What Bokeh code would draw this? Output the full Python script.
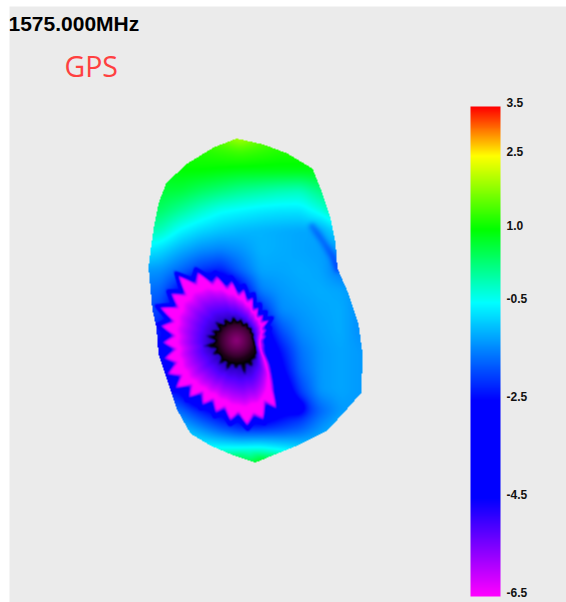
import numpy as np
from bokeh.core.properties import value
from bokeh.embed import file_html
from bokeh.models import LinearColorMapper, Range1d
from bokeh.plotting import figure
from bokeh.resources import INLINE

TITLE = "1575.000MHz"
BAND = "GPS"
scale_ticks = [3.5, 2.5, 1.0, -0.5, -2.5, -4.5, -6.5]
scale_labels = ["3.5", "2.5", "1.0", "-0.5", "-2.5", "-4.5", "-6.5"]

# Projected silhouette of the radiation pattern
outline_x = [236, 263, 287, 312, 322, 330, 335, 337, 348, 358, 362, 361, 347, 327, 297, 277, 255, 233, 210, 190, 177, 167, 158, 156, 152, 148, 151, 154, 158, 166, 187, 213]
outline_y = [138, 144, 153, 168, 193, 217, 243, 268, 293, 323, 353, 392, 408, 430, 445, 453, 462, 455, 445, 433, 410, 380, 353, 327, 310, 267, 243, 223, 203, 182, 163, 147]

lattice_x = [140, 160, 180, 200, 220, 240, 260, 280, 300, 320, 340, 360, 380]
lattice_y = [130, 150, 170, 190, 210, 230, 250, 270, 290, 310, 330, 350, 370, 390, 410, 430, 450, 470]
gain_y130 = [1.2, 1.2, 1.3, 1.5, 1.8, 2.4, 1.8, 1.4, 1.3, 1.3, 1.3, 1.2, 1.2]
gain_y150 = [1.0, 1.0, 1.1, 1.2, 1.3, 1.4, 1.3, 1.2, 1.2, 1.1, 1.1, 1.1, 1.1]
gain_y170 = [0.9, 0.9, 1.0, 1.0, 0.95, 0.9, 0.9, 0.9, 0.9, 0.9, 0.8, 0.8, 0.8]
gain_y190 = [0.8, 0.7, 0.65, 0.45, 0.3, 0.15, 0.05, -0.05, -0.1, 0.25, 0.5, 0.5, 0.5]
gain_y210 = [0.5, 0.4, 0.1, -0.2, -0.45, -0.55, -0.65, -0.7, -0.7, -0.35, 0.2, 0.2, 0.2]
gain_y230 = [0.0, -0.1, -0.55, -0.8, -0.95, -1.05, -1.1, -1.15, -1.2, -1.2, -0.7, -0.7, -0.7]
gain_y250 = [-0.6, -0.8, -1.15, -1.4, -1.5, -1.35, -1.1, -1.15, -1.2, -1.25, -1.4, -1.4, -1.4]
gain_y270 = [-1.3, -1.35, -1.7, -2.1, -2.3, -1.7, -1.2, -1.2, -1.15, -1.2, -1.55, -1.6, -1.6]
gain_y290 = [-1.6, -1.7, -2.5, -4.0, -4.0, -2.7, -1.5, -1.3, -1.2, -1.15, -1.2, -1.4, -1.4]
gain_y310 = [-1.9, -2.0, -3.0, -4.0, -4.0, -3.5, -2.3, -1.4, -1.3, -1.2, -1.15, -1.4, -1.4]
gain_y330 = [-2.2, -2.3, -4.0, -4.0, -4.0, -4.0, -3.0, -1.9, -1.4, -1.25, -1.15, -1.4, -1.4]
gain_y350 = [-2.4, -2.5, -4.0, -4.0, -4.0, -4.0, -3.5, -2.4, -1.6, -1.3, -1.2, -1.3, -1.3]
gain_y370 = [-2.4, -2.5, -3.0, -4.0, -4.0, -4.0, -4.0, -2.7, -1.7, -1.3, -1.2, -1.3, -1.3]
gain_y390 = [-2.0, -2.2, -2.6, -4.0, -4.0, -4.0, -4.0, -3.2, -2.0, -1.3, -1.2, -1.3, -1.3]
gain_y410 = [-1.3, -1.5, -1.7, -2.3, -2.8, -3.2, -3.5, -2.8, -2.4, -1.7, -1.3, -1.3, -1.3]
gain_y430 = [-0.7, -0.7, -0.9, -1.3, -1.7, -2.0, -2.0, -1.9, -1.7, -1.3, -1.0, -1.0, -1.0]
gain_y450 = [-0.2, -0.2, -0.2, -0.3, -0.3, -0.25, -0.2, -0.45, -0.7, -0.9, -0.9, -0.9, -0.9]
gain_y470 = [1.6, 1.6, 1.6, 1.6, 1.7, 1.8, 1.8, 1.8, 1.6, 1.6, 1.6, 1.6, 1.6]
lattice_rows = [gain_y130, gain_y150, gain_y170, gain_y190, gain_y210, gain_y230, gain_y250, gain_y270, gain_y290,
                gain_y310, gain_y330, gain_y350, gain_y370, gain_y390, gain_y410, gain_y430, gain_y450, gain_y470]

# Null of the pattern: spiky edges by direction, one entry per 6 degrees (clockwise from +x)
null_center = (238, 342)
null_outer_radius = [21, 22, 22, 23, 25, 29, 34, 39, 46, 55, 73, 62, 78, 71, 81, 68, 76, 64, 71, 60,
                     69, 59, 71, 61, 75, 64, 75, 63, 73, 61, 73, 62, 77, 66, 84, 68, 81, 69, 88, 70,
                     79, 62, 67, 53, 59, 45, 51, 40, 45, 33, 38, 29, 35, 28, 36, 25, 28, 23, 25, 21]
null_inner_radius = [16, 16, 17, 18, 19, 22, 20, 24, 22, 22, 28, 23, 22, 33, 22, 22, 27, 22, 22, 31,
                     22, 22, 30, 22, 22, 22, 29, 22, 22, 36, 23, 22, 33, 22, 30, 22, 22, 32, 22, 22,
                     28, 21, 21, 27, 20, 20, 24, 18, 18, 22, 17, 17, 20, 16, 16, 18, 15, 15, 16, 15]

# Creases of the surface: thin dark folds
fold_right_x = [312, 322, 332, 337]
fold_right_y = [226, 240, 256, 268]
fold_lower_x = [264, 272, 284, 298]
fold_lower_y = [365, 385, 398, 406]

# Colour scale stops, extended below -6.5 for the surface inside the null
stop_values = [3.5, 2.5, 1.0, -0.5, -2.5, -4.5, -6.5, -7.5, -8.5, -9.2, -10.0, -10.6, -11.5]
stop_colors = [(255, 0, 0), (255, 255, 0), (0, 255, 0), (0, 255, 255), (0, 0, 255), (0, 0, 255), (255, 0, 255),
               (170, 0, 255), (80, 0, 255), (40, 0, 190), (0, 0, 0), (30, 0, 24), (140, 0, 120)]

PAGE_W, PAGE_H = 566, 602
LEFT, TOP = 9, 6
W, H = PAGE_W - LEFT, PAGE_H - TOP


def palette():
    levels = np.linspace(-11.5, 3.5, 1501)
    xs = stop_values[::-1]
    cols = np.array(stop_colors[::-1], dtype=float)
    chan = [np.interp(levels, xs, cols[:, i]) for i in range(3)]
    return ["#%02x%02x%02x" % (int(r + .5), int(g + .5), int(b + .5)) for r, g, b in zip(*chan)]


def blur(a, n):
    k = np.hanning(2 * n + 3)[1:-1]
    k /= k.sum()
    for ax in (0, 1):
        pad = [(n, n) if i == ax else (0, 0) for i in (0, 1)]
        a = np.apply_along_axis(lambda m: np.convolve(m, k, mode="valid"), ax, np.pad(a, pad, mode="edge"))
    return a


def inside(px, py, xs, ys):
    xs, ys = np.array(xs, float), np.array(ys, float)
    x2, y2 = np.roll(xs, -1), np.roll(ys, -1)
    res = np.zeros(px.shape, bool)
    for a, b, c, d in zip(xs, ys, x2, y2):
        cross = ((b > py) != (d > py)) & (px < (c - a) * (py - b) / (d - b + 1e-9) + a)
        res ^= cross
    return res


def fold_distance(px, py, xs, ys):
    best = np.full(px.shape, 1e9)
    for a, b, c, d in zip(xs[:-1], ys[:-1], xs[1:], ys[1:]):
        dx, dy = c - a, d - b
        t = np.clip(((px - a) * dx + (py - b) * dy) / (dx * dx + dy * dy), 0, 1)
        best = np.minimum(best, np.hypot(px - a - t * dx, py - b - t * dy))
    return best


def surface():
    py, px = np.mgrid[TOP:PAGE_H, LEFT:PAGE_W] + 0.5
    grid = np.array(lattice_rows, float)
    by_col = np.array([np.interp(py[:, 0], lattice_y, grid[:, j]) for j in range(grid.shape[1])]).T
    field = np.array([np.interp(px[0, :], lattice_x, row) for row in by_col])
    field = blur(field, 7)
    field = field - 0.45 * np.exp(-(fold_distance(px, py, fold_right_x, fold_right_y) / 4.0) ** 2)
    field = field - 0.5 * np.exp(-(fold_distance(px, py, fold_lower_x, fold_lower_y) / 8.0) ** 2)

    dx, dy = px - null_center[0], py - null_center[1]
    dist = np.hypot(dx, dy)
    ang = np.degrees(np.arctan2(dy, dx)) % 360
    spokes = np.arange(0, 366, 6)
    rs = np.interp(ang, spokes, null_outer_radius + null_outer_radius[:1])
    rc = np.interp(ang, spokes, null_inner_radius + null_inner_radius[:1])

    # Radii averaged over neighbouring directions: halo and interior shading stay free of streaks
    def smooth(radii):
        return np.convolve(np.array(radii * 3, float), np.ones(5) / 5, mode="same")[60:120]
    mean_outer = smooth(null_outer_radius)
    mean_inner = smooth(null_inner_radius)
    rm = np.interp(ang, spokes, list(mean_outer) + [mean_outer[0]])
    rn = np.interp(ang, spokes, list(mean_inner) + [mean_inner[0]])
    field = np.minimum(field, -2.6 + np.maximum(dist - rm, 0) * 0.07)

    t = np.clip((dist - rn) / np.maximum(rm - rn, 1), 0, 1)
    hole = -6.5 - 2.7 * np.clip((0.8 - t) / 0.8, 0, 1) ** 0.75
    core = -10.0 - 1.5 * np.clip(1 - np.hypot(dx + 2, dy + 2) / 23.0, 0, 1) ** 0.55
    inner = np.where(dist < rc, core, hole)
    rim = np.clip((dist - rs) / 9.0, 0, 1)
    v = np.where(dist <= rs, inner, -6.5 + (field + 6.5) * rim)
    v = blur(v, 2)
    v[~inside(px, py, outline_x, outline_y)] = np.nan
    return v


mapper = LinearColorMapper(palette=palette(), low=-11.5, high=3.5, nan_color="rgba(0, 0, 0, 0)")

p = figure(width=W, height=H, x_range=Range1d(LEFT, PAGE_W), y_range=Range1d(PAGE_H, TOP),
           output_backend="svg", toolbar_location=None, min_border=0, margin=(TOP, 0, 0, LEFT),
           background_fill_color="#ebebeb", border_fill_color="#ebebeb", outline_line_color=None)
p.xaxis.visible = False
p.yaxis.visible = False
p.grid.visible = False

p.image(image=[surface()], x=LEFT, y=TOP, dw=W, dh=H, color_mapper=mapper)

# Colour scale: gain is drawn through a range of its own
BAR_TOP, BAR_BOTTOM = 106, 596
per_px = (scale_ticks[0] - scale_ticks[-1]) / (BAR_BOTTOM - BAR_TOP)
p.extra_y_ranges = {"gain": Range1d(scale_ticks[-1] - (PAGE_H - BAR_BOTTOM) * per_px,
                                    scale_ticks[0] + (BAR_TOP - TOP) * per_px)}
levels = np.linspace(scale_ticks[-1], scale_ticks[0], BAR_BOTTOM - BAR_TOP)[:, None]
p.image(image=[levels], x=470, dw=30, y=scale_ticks[-1], dh=scale_ticks[0] - scale_ticks[-1],
        color_mapper=mapper, y_range_name="gain")
p.text(x=[506] * len(scale_ticks), y=[v + 4 * per_px for v in scale_ticks], text=scale_labels, y_range_name="gain",
       text_font=value("Liberation Sans"), text_font_style="bold", text_font_size="12px",
       text_color="#111111", text_baseline="middle", text_align="left")

p.text(x=[8], y=[23], text=[TITLE], text_font=value("Liberation Sans"), text_font_style="bold",
       text_font_size="21px", text_color="#000000", text_baseline="middle")
p.text(x=[64], y=[65], text=[BAND], text_font=value("Open Sans"), text_font_size="28.5px",
       text_color="#ff4040", text_baseline="middle")

open("out.html", "w").write(file_html(p, INLINE))
